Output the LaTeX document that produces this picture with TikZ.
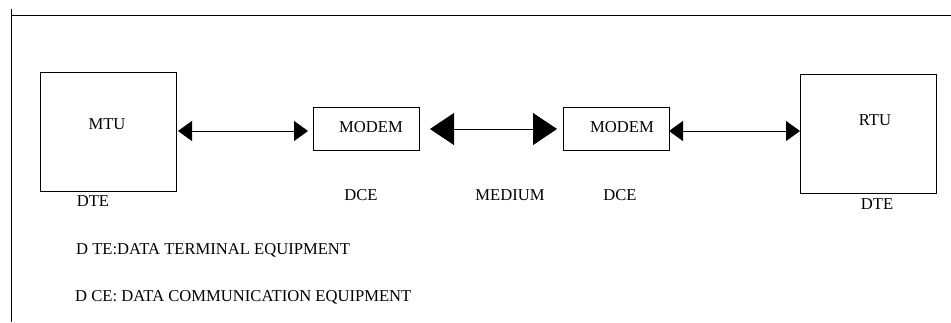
\documentclass[tikz,border=0pt]{standalone}
\usepackage{fontspec}
\setmainfont{Liberation Serif}
\usetikzlibrary{arrows.meta}
\begin{document}
\begin{tikzpicture}[x=1pt,y=-1pt,
  unit/.style={draw,line width=0.9pt,minimum width=136pt,minimum height=119pt,inner sep=0pt},
  modembox/.style={draw,line width=0.9pt,minimum width=106pt,minimum height=43pt,inner sep=0pt},
  lbl/.style={font=\fontsize{16.6}{18}\selectfont,inner sep=0pt},
  link/.style={line width=0.8pt,{Triangle[length=14pt,width=20pt]}-{Triangle[length=14pt,width=20pt]}},
  medium/.style={line width=0.8pt,{Triangle[length=24pt,width=32pt]}-{Triangle[length=24pt,width=32pt]}}]
\useasboundingbox (0,0) rectangle (951,322);
% page frame
\draw[line width=0.9pt] (11,15) -- (951,15);
\draw[line width=0.9pt] (11,9) -- (11,322);
% units and modems
\node[unit] (mtu) at (108,131.5) {};
\node[lbl] at (107,124) {MTU};
\node[modembox] (m1) at (366,128.5) {};
\node[lbl] at (371,127) {MODEM};
\node[modembox] (m2) at (616.5,128.5) {};
\node[lbl] at (622,127) {MODEM};
\node[unit] (rtu) at (868,133.5) {};
\node[lbl] at (875,120) {RTU};
% connectors
\coordinate (a1) at (178,131);
\coordinate (a2) at (308,131);
\draw[link] (a1) -- (a2);
\coordinate (b1) at (430,129);
\coordinate (b2) at (557,129);
\draw[medium] (b1) -- (b2);
\coordinate (c1) at (669,131);
\coordinate (c2) at (800,131);
\draw[link] (c1) -- (c2);
% labels under the blocks
\node[lbl] (dte1) at (93,201) {DTE};
\node[lbl] (dce1) at (361,195) {DCE};
\node[lbl] (med) at (510,195) {MEDIUM};
\node[lbl] (dce2) at (620,195) {DCE};
\node[lbl] (dte2) at (877,204) {DTE};
% legend
\node[lbl,anchor=west] (l1) at (76,250) {D TE:DATA TERMINAL EQUIPMENT};
\node[lbl,anchor=west] (l2) at (75,297) {D CE: DATA COMMUNICATION EQUIPMENT};
\end{tikzpicture}
\end{document}
